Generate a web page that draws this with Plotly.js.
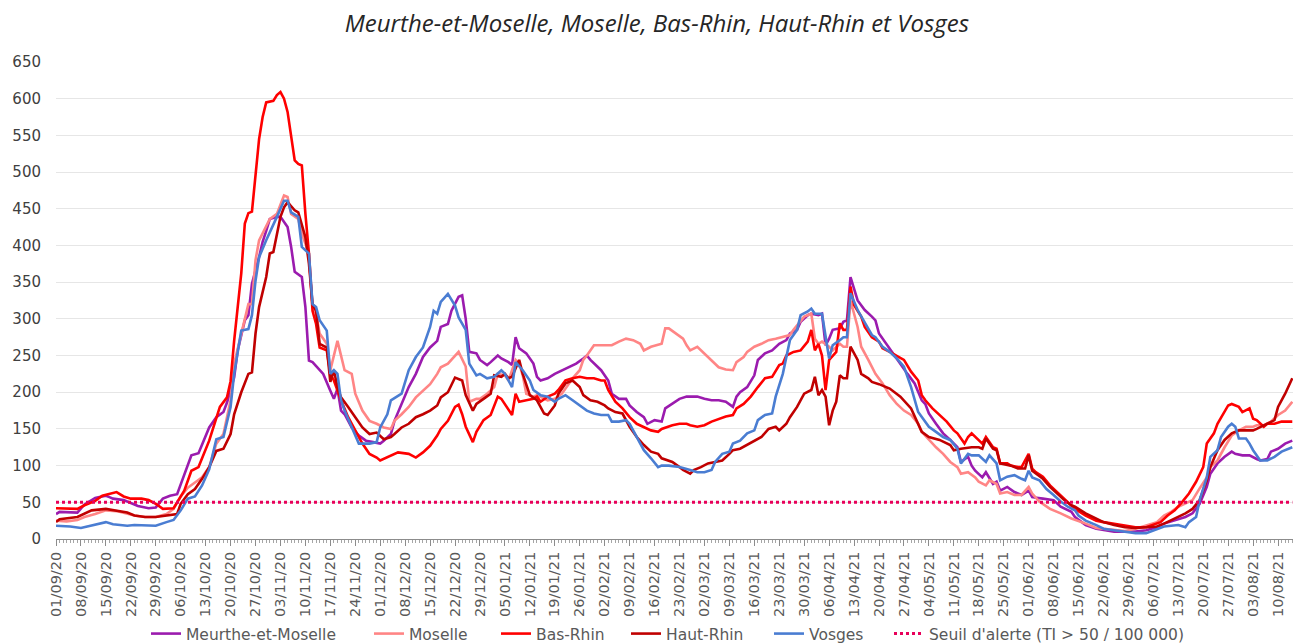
<!DOCTYPE html>
<html>
<head>
<meta charset="utf-8">
<script src="https://cdn.plot.ly/plotly-3.0.1.min.js"></script>
<style>html,body{margin:0;padding:0;background:#fff;}#chart{width:1293px;height:643px;}</style>
</head>
<body>
<div id="chart"></div>
<script>
// Day offsets from 01/09/2020 and incidence values (TI / 100 000)
const startDate = '2020-09-01';
const meurthe = [[0,34],[1,37],[6,36],[8,47],[11,56],[14,59],[15,57],[16,55],[19,53],[21,49],[23,45],[26,42],[28,43],[30,55],[32,59],[34,61],[36,89],[38,114],[40,117],[43,152],[45,166],[47,173],[48,186],[50,220],[51,257],[53,298],[54,305],[55,348],[57,384],[58,405],[59,420],[60,436],[62,439],[63,439],[65,425],[66,398],[67,364],[69,357],[70,316],[71,243],[72,241],[74,230],[75,225],[77,202],[78,191],[79,205],[80,175],[81,170],[83,152],[85,141],[87,134],[89,132],[91,130],[92,134],[94,143],[95,161],[97,184],[99,207],[101,225],[103,248],[105,261],[107,270],[108,289],[110,293],[111,311],[113,330],[114,332],[115,300],[116,255],[118,253],[119,244],[121,237],[122,241],[124,250],[125,246],[127,241],[128,237],[129,275],[130,260],[132,253],[134,239],[135,221],[136,216],[138,219],[140,225],[142,230],[144,235],[146,239],[148,246],[149,250],[150,244],[152,235],[153,230],[155,216],[156,198],[158,191],[160,191],[161,182],[163,173],[165,166],[166,157],[168,162],[170,160],[171,178],[173,184],[175,191],[177,194],[180,194],[182,191],[184,189],[186,189],[188,187],[190,180],[191,194],[192,200],[194,207],[196,223],[197,244],[199,253],[201,257],[203,266],[205,271],[206,280],[208,285],[209,296],[211,305],[212,307],[214,305],[215,307],[216,264],[217,273],[218,285],[220,287],[221,296],[222,298],[223,357],[225,325],[226,319],[227,312],[229,303],[230,298],[231,280],[233,266],[235,253],[237,239],[239,225],[241,212],[243,189],[244,184],[245,171],[247,157],[249,144],[251,135],[253,125],[254,105],[256,112],[257,100],[258,93],[260,84],[261,91],[263,75],[264,78],[265,66],[267,71],[269,64],[271,60],[273,66],[274,57],[277,55],[280,53],[282,44],[285,37],[286,30],[289,19],[292,14],[294,12],[297,10],[300,10],[303,10],[306,12],[309,16],[311,21],[314,26],[317,30],[319,35],[321,48],[323,71],[324,89],[326,103],[328,112],[330,119],[331,116],[333,114],[335,114],[337,109],[338,107],[340,109],[341,119],[343,123],[345,130],[347,134]];
const moselle = [[0,25],[3,24],[6,26],[8,30],[11,34],[14,39],[17,38],[20,34],[22,32],[25,30],[28,30],[31,34],[33,41],[35,58],[37,70],[39,77],[41,84],[43,98],[45,130],[47,143],[49,189],[50,239],[52,280],[54,320],[55,320],[56,380],[57,407],[59,425],[60,436],[62,443],[64,468],[65,466],[66,443],[68,436],[69,416],[71,389],[72,316],[73,307],[74,280],[76,266],[77,230],[79,270],[80,248],[81,230],[83,225],[84,198],[86,175],[88,161],[90,157],[92,152],[94,150],[95,161],[97,170],[99,180],[101,193],[103,202],[105,211],[107,225],[108,234],[110,239],[112,250],[113,255],[115,235],[116,187],[118,191],[119,191],[121,198],[123,207],[124,225],[126,223],[127,216],[129,244],[130,239],[131,223],[132,198],[134,194],[135,196],[137,191],[138,189],[140,191],[142,198],[144,212],[145,219],[147,230],[148,244],[149,250],[151,264],[153,264],[155,264],[156,264],[158,269],[160,273],[162,271],[164,266],[165,257],[167,262],[170,266],[171,287],[172,287],[174,280],[176,273],[177,264],[178,257],[180,262],[182,253],[184,244],[186,234],[188,231],[190,230],[191,241],[193,248],[194,255],[196,262],[198,266],[200,271],[202,273],[204,275],[206,278],[207,285],[208,291],[210,303],[212,307],[213,273],[214,266],[215,269],[217,262],[218,257],[220,266],[221,262],[222,262],[223,325],[225,289],[226,262],[228,244],[230,225],[232,212],[234,196],[236,184],[238,175],[240,169],[242,157],[243,146],[245,135],[247,125],[249,116],[251,105],[253,98],[254,89],[256,91],[258,84],[259,78],[261,73],[262,80],[264,75],[265,62],[267,64],[269,60],[271,60],[273,71],[274,62],[276,51],[279,41],[282,35],[285,28],[289,21],[292,15],[294,14],[297,12],[300,11],[303,14],[306,19],[309,23],[311,32],[313,37],[315,44],[317,48],[319,53],[321,69],[323,84],[324,98],[326,107],[328,125],[330,141],[332,148],[334,153],[336,153],[337,155],[339,155],[341,160],[343,169],[345,175],[347,187]];
const basRhin = [[0,42],[3,42],[6,41],[8,46],[11,52],[13,59],[15,61],[17,64],[19,58],[21,55],[24,55],[26,53],[28,48],[30,41],[33,42],[36,66],[38,93],[40,98],[43,134],[46,180],[48,193],[49,215],[50,270],[51,320],[52,362],[53,430],[54,444],[55,446],[56,500],[57,545],[58,575],[59,595],[61,597],[62,605],[63,609],[64,600],[65,582],[66,552],[67,516],[68,511],[69,509],[70,443],[71,389],[72,311],[73,293],[74,261],[76,257],[77,225],[78,216],[80,189],[82,166],[84,148],[86,130],[88,116],[90,111],[91,107],[94,114],[96,118],[99,116],[101,111],[103,118],[105,127],[107,141],[108,150],[110,161],[112,180],[113,183],[114,170],[115,153],[117,132],[118,146],[120,162],[122,169],[124,194],[125,191],[126,184],[128,169],[129,198],[130,187],[132,189],[134,191],[135,194],[136,187],[138,194],[140,198],[141,203],[143,216],[145,219],[147,221],[149,219],[151,219],[153,216],[154,216],[155,203],[157,187],[159,178],[161,166],[163,157],[165,153],[167,148],[169,146],[170,150],[173,155],[175,157],[177,157],[178,155],[180,153],[182,155],[184,160],[186,164],[188,167],[190,169],[191,178],[193,184],[195,194],[197,207],[199,219],[201,221],[203,237],[204,239],[205,250],[207,255],[209,257],[211,269],[212,285],[213,257],[214,266],[215,250],[216,203],[217,244],[219,255],[220,294],[221,285],[222,285],[223,344],[224,319],[226,303],[227,289],[229,275],[231,269],[232,260],[234,255],[236,250],[238,244],[240,228],[242,216],[243,196],[244,189],[246,178],[248,169],[250,160],[252,148],[253,144],[255,130],[256,139],[257,144],[259,135],[260,130],[261,139],[263,125],[264,123],[265,103],[267,103],[268,100],[270,98],[271,98],[273,116],[274,96],[275,91],[277,85],[279,73],[281,64],[283,55],[285,46],[286,41],[289,32],[292,25],[294,23],[297,21],[300,18],[303,16],[306,16],[308,19],[310,23],[312,32],[314,39],[316,50],[318,62],[320,78],[322,98],[323,130],[325,144],[326,157],[328,173],[329,182],[330,184],[332,180],[333,173],[335,178],[336,164],[337,162],[339,153],[340,157],[342,157],[344,160],[347,160]];
const hautRhin = [[0,23],[1,27],[6,30],[8,34],[10,39],[14,41],[17,39],[20,36],[22,32],[25,30],[28,30],[31,32],[34,34],[35,48],[37,61],[39,68],[41,82],[43,98],[45,120],[47,123],[49,143],[50,170],[52,200],[54,225],[55,227],[56,280],[57,316],[59,357],[60,389],[61,391],[63,439],[64,452],[65,459],[67,448],[68,445],[70,411],[71,375],[72,320],[73,311],[74,266],[76,261],[77,214],[78,230],[79,207],[80,193],[82,180],[84,166],[86,152],[88,143],[90,145],[92,136],[94,139],[95,143],[97,152],[99,157],[101,166],[103,170],[105,175],[107,182],[108,193],[110,200],[112,220],[114,216],[115,196],[117,175],[118,184],[120,191],[122,198],[123,223],[125,221],[126,225],[127,219],[128,221],[130,244],[131,225],[133,196],[135,189],[137,171],[138,169],[140,182],[141,198],[143,212],[145,216],[147,207],[148,196],[150,189],[152,187],[154,182],[155,178],[157,173],[159,171],[161,153],[163,139],[165,128],[167,119],[169,116],[170,110],[172,107],[173,105],[175,98],[176,94],[178,89],[179,94],[181,98],[183,103],[185,105],[187,107],[189,116],[190,121],[192,123],[194,128],[196,134],[198,139],[200,150],[202,153],[203,148],[205,157],[206,166],[208,180],[210,198],[212,203],[213,221],[214,196],[215,203],[216,194],[217,155],[218,175],[219,187],[220,223],[221,219],[222,219],[223,262],[225,244],[226,225],[228,219],[229,214],[231,211],[234,205],[237,194],[240,178],[243,146],[245,139],[248,135],[251,128],[252,121],[254,123],[256,125],[257,125],[259,125],[260,123],[261,137],[263,123],[264,121],[265,103],[268,100],[270,96],[272,96],[273,114],[274,93],[275,89],[277,82],[279,71],[281,62],[283,53],[285,46],[286,44],[289,35],[292,28],[294,23],[297,19],[300,16],[303,15],[306,16],[309,17],[311,21],[314,28],[317,35],[319,41],[321,53],[323,80],[324,98],[326,121],[328,135],[330,144],[332,148],[334,148],[336,148],[337,150],[339,155],[342,162],[343,180],[345,198],[347,219]];
const vosges = [[0,18],[4,17],[7,15],[10,18],[12,20],[14,23],[16,20],[20,18],[22,19],[25,18],[28,18],[31,23],[33,26],[35,39],[37,55],[39,58],[41,73],[43,95],[45,136],[47,139],[49,180],[50,225],[52,284],[54,286],[55,305],[56,352],[57,384],[59,407],[61,430],[62,439],[64,461],[65,461],[66,445],[68,439],[69,398],[71,389],[72,320],[73,316],[74,298],[76,284],[77,225],[78,230],[79,225],[80,189],[81,175],[83,152],[85,130],[86,130],[88,130],[90,132],[91,152],[93,170],[94,189],[96,195],[97,198],[99,230],[101,248],[103,261],[105,289],[106,311],[107,307],[108,323],[110,334],[112,318],[113,302],[115,285],[116,239],[118,223],[119,225],[121,219],[123,221],[125,230],[126,225],[128,207],[129,241],[131,230],[133,216],[134,203],[136,196],[138,194],[140,187],[141,191],[143,196],[145,189],[147,182],[149,175],[151,171],[153,169],[155,169],[156,160],[158,160],[160,162],[161,157],[163,139],[165,121],[167,110],[169,98],[170,100],[172,100],[175,98],[177,96],[178,94],[180,91],[182,91],[184,94],[185,105],[187,116],[189,119],[190,130],[192,134],[194,144],[196,148],[197,162],[199,169],[201,171],[202,194],[204,225],[205,248],[206,271],[208,285],[209,305],[211,310],[212,314],[213,307],[215,307],[217,246],[218,264],[220,271],[221,275],[222,275],[223,335],[225,312],[227,294],[229,278],[230,275],[232,262],[234,255],[236,246],[238,235],[240,207],[242,173],[243,166],[245,153],[247,146],[249,139],[251,135],[253,123],[254,103],[256,116],[257,114],[259,114],[261,105],[262,114],[264,103],[265,80],[267,85],[269,87],[271,82],[272,80],[273,93],[274,84],[276,80],[278,68],[280,60],[282,51],[284,44],[286,39],[287,32],[289,25],[292,19],[294,14],[297,12],[300,10],[303,8],[306,8],[307,10],[309,14],[311,17],[313,18],[315,19],[317,16],[318,23],[320,30],[321,53],[323,84],[324,112],[326,121],[327,139],[329,153],[330,157],[331,153],[332,137],[334,137],[335,130],[336,121],[338,107],[340,107],[342,112],[344,119],[346,123],[347,125]];
const seuilDays = [0, 347];
const seuilValue = 50;

const seriesNames = ['Meurthe-et-Moselle', 'Moselle', 'Bas-Rhin', 'Haut-Rhin', 'Vosges'];
const seriesColors = ['#9B1BAE', '#FF8585', '#FF0000', '#C00000', '#4A7DD2'];
const seriesData = [meurthe, moselle, basRhin, hautRhin, vosges];

const DAY = 86400000;
const t0 = Date.parse(startDate + 'T00:00:00Z');
function toDate(d) { return new Date(t0 + d * DAY).toISOString().slice(0, 19).replace('T', ' '); }

const legendIds = ['legend', 'legend2', 'legend3', 'legend4', 'legend5', 'legend6'];
const legendLeft = [146, 369, 496, 626, 769, 889];   // px, left edge of each legend entry

const traces = seriesData.map((s, i) => ({
  type: 'scatter', mode: 'lines', name: seriesNames[i], legend: legendIds[i],
  x: s.map(p => toDate(p[0])), y: s.map(p => p[1]),
  line: {color: seriesColors[i], width: 2.6}
}));
traces.push({
  type: 'scatter', mode: 'lines', name: "Seuil d'alerte (TI > 50 / 100 000)", legend: legendIds[5],
  x: seuilDays.map(toDate), y: seuilDays.map(() => seuilValue),
  line: {color: '#E8005A', width: 3, dash: 'dot'}
});

const W = 1293, H = 643;
const layout = {
  width: W, height: H,
  margin: {l: 56, r: 0, t: 62, b: 104},
  paper_bgcolor: '#ffffff', plot_bgcolor: '#ffffff',
  title: {text: 'Meurthe-et-Moselle, Moselle, Bas-Rhin, Haut-Rhin et Vosges',
          font: {family: 'Open Sans', size: 24, color: '#262626', style: 'italic'},
          x: 0.508, xanchor: 'center', y: 0.963, yanchor: 'middle'},
  showlegend: true,
  xaxis: {type: 'date', range: [toDate(0), toDate(347.2)],
          tick0: toDate(0), dtick: 7 * DAY, tickformat: '%d/%m/%y', tickangle: -90,
          ticks: 'outside', ticklen: 6, tickcolor: '#8C8C8C', tickwidth: 1,
          minor: {dtick: DAY, tick0: toDate(0), ticks: 'outside', ticklen: 3, tickcolor: '#A6A6A6', showgrid: false},
          showline: true, linecolor: '#8C8C8C', linewidth: 1,
          showgrid: false, zeroline: false, automargin: false,
          tickfont: {family: 'DejaVu Sans', size: 14.5, color: '#595959'}, fixedrange: true},
  yaxis: {range: [0, 650], dtick: 50, tick0: 0, showgrid: true, gridcolor: '#E6E6E6', gridwidth: 1,
          zeroline: false, showline: false, ticks: '', ticklabelstandoff: 14, automargin: false,
          tickfont: {family: 'DejaVu Sans', size: 15, color: '#404040'}, fixedrange: true},
  hovermode: false
};
legendIds.forEach((id, i) => {
  layout[id] = {orientation: 'h', xref: 'container', yref: 'container',
    x: legendLeft[i] / W, xanchor: 'left', y: (H - 634) / H, yanchor: 'middle',
    font: {family: 'DejaVu Sans', size: 15.5, color: '#595959'},
    bgcolor: 'rgba(0,0,0,0)', borderwidth: 0};
});

Plotly.newPlot('chart', traces, layout, {displayModeBar: false, staticPlot: true});
</script>
</body>
</html>
